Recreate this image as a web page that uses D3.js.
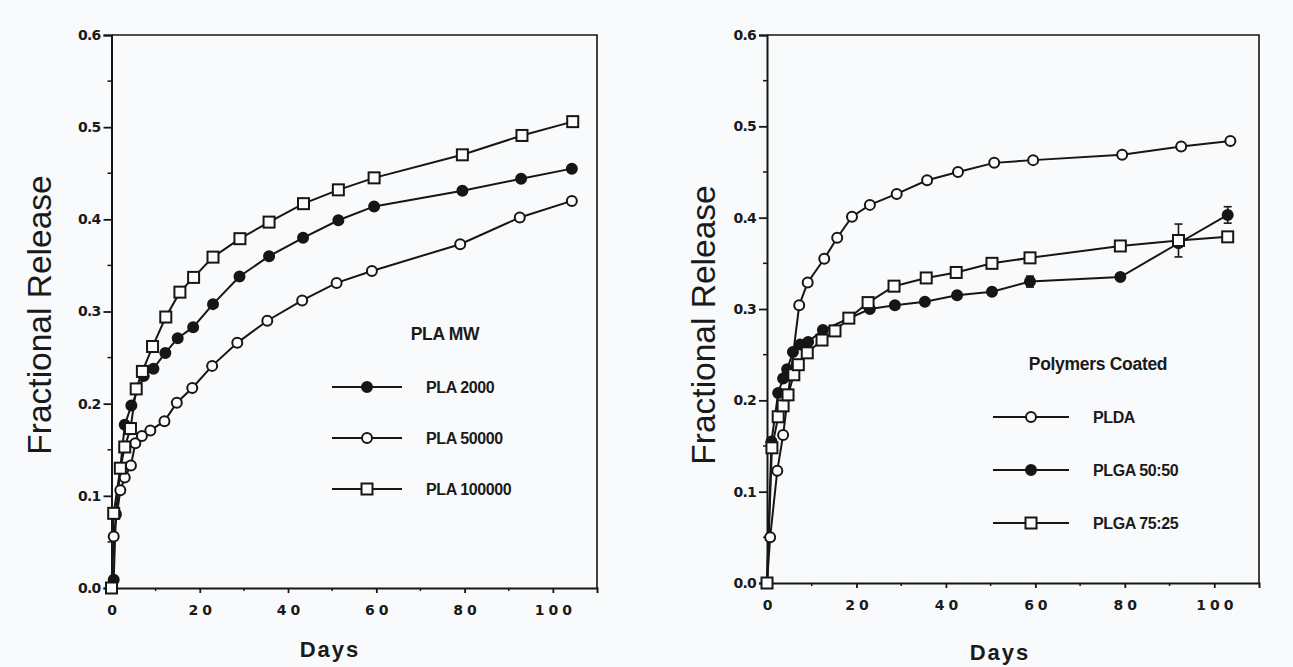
<!DOCTYPE html>
<html><head><meta charset="utf-8">
<script src="https://cdn.jsdelivr.net/npm/d3@7/dist/d3.min.js"></script>
<style>
html,body{margin:0;padding:0;background:#f9fafb;}
svg{display:block;}
text{font-family:"Liberation Sans",Arial,sans-serif;fill:#1a1a1a;}
</style></head>
<body>
<svg id="chart" width="1293" height="667"></svg>
<script>
// ---------- DATA ----------
const xTicks = [0, 20, 40, 60, 80, 100];
const yTicks = [0.0, 0.1, 0.2, 0.3, 0.4, 0.5, 0.6];
const xLabel = "Days";
const yLabel = "Fractional Release";

// Left panel: PLA molecular weight
const leftLegendTitle = "PLA MW";
const pla2000Days = [0, 0.5, 1, 2, 3, 4.5, 7.3, 9.5, 12.2, 15, 18.5, 23, 29, 35.7, 43.4, 51.4, 59.5, 79.5, 92.8, 104.3];
const pla2000Vals = [0, 0.009, 0.08, 0.13, 0.177, 0.198, 0.23, 0.238, 0.255, 0.271, 0.283, 0.308, 0.338, 0.36, 0.38, 0.399, 0.414, 0.431, 0.444, 0.455];
const pla50000Days = [0, 0.5, 2, 3, 4.4, 5.4, 6.9, 8.8, 12, 14.8, 18.3, 22.8, 28.5, 35.3, 43.2, 51, 59, 79, 92.5, 104.3];
const pla50000Vals = [0, 0.056, 0.106, 0.12, 0.133, 0.157, 0.165, 0.171, 0.181, 0.201, 0.217, 0.241, 0.266, 0.29, 0.312, 0.331, 0.344, 0.373, 0.402, 0.42];
const pla100000Days = [0, 0.5, 2, 3, 4.3, 5.6, 7, 9.3, 12.3, 15.5, 18.6, 23, 29.1, 35.7, 43.5, 51.4, 59.5, 79.5, 93, 104.5];
const pla100000Vals = [0, 0.081, 0.13, 0.153, 0.173, 0.216, 0.235, 0.262, 0.294, 0.321, 0.337, 0.359, 0.379, 0.397, 0.417, 0.432, 0.445, 0.47, 0.491, 0.506];

// Right panel: polymers coated
const rightLegendTitle = "Polymers Coated";
const pldaDays = [0, 0.7, 2.3, 3.6, 7.2, 9.1, 12.8, 15.7, 19, 23, 29, 35.8, 42.7, 50.8, 59.5, 79.4, 92.6, 103.6];
const pldaVals = [0, 0.05, 0.123, 0.162, 0.304, 0.329, 0.355, 0.378, 0.401, 0.414, 0.426, 0.441, 0.45, 0.46, 0.463, 0.469, 0.478, 0.484];
const plga5050Days = [0, 1, 2.5, 3.6, 4.5, 5.8, 7.4, 9.2, 12.5, 23, 28.6, 35.3, 42.5, 50.3, 58.8, 79, 92, 103];
const plga5050Vals = [0, 0.155, 0.208, 0.224, 0.234, 0.253, 0.261, 0.264, 0.277, 0.3, 0.304, 0.308, 0.315, 0.319, 0.33, 0.335, 0.372, 0.403];
const plga5050Err  = [0, 0, 0, 0, 0, 0, 0, 0, 0, 0, 0, 0, 0, 0, 0.006, 0, 0, 0.009];
const plga7525Days = [0, 1.1, 2.5, 3.6, 4.7, 6, 7, 9, 12.3, 15.2, 18.3, 22.6, 28.4, 35.6, 42.3, 50.3, 58.8, 79, 92, 103];
const plga7525Vals = [0, 0.148, 0.182, 0.194, 0.206, 0.228, 0.239, 0.252, 0.266, 0.276, 0.29, 0.307, 0.325, 0.334, 0.34, 0.35, 0.356, 0.369, 0.375, 0.379];
const plga7525Err  = [0, 0, 0, 0, 0, 0, 0, 0, 0, 0, 0, 0, 0, 0, 0, 0, 0, 0, 0.018, 0];

const leftSeries = [
  {name: "PLA 2000", days: pla2000Days, vals: pla2000Vals, marker: "filled"},
  {name: "PLA 50000", days: pla50000Days, vals: pla50000Vals, marker: "open"},
  {name: "PLA 100000", days: pla100000Days, vals: pla100000Vals, marker: "square"}
];
const rightSeries = [
  {name: "PLDA", days: pldaDays, vals: pldaVals, marker: "open"},
  {name: "PLGA 50:50", days: plga5050Days, vals: plga5050Vals, err: plga5050Err, marker: "filled"},
  {name: "PLGA 75:25", days: plga7525Days, vals: plga7525Vals, err: plga7525Err, marker: "square"}
];

// ---------- DRAW ----------
const svg = d3.select("#chart");
const INK = "#161616";

function drawMarker(g, type, cx, cy) {
  if (type === "square") {
    g.append("rect").attr("x", cx - 5.5).attr("y", cy - 5.5).attr("width", 11).attr("height", 11)
      .attr("fill", "#fbfcfd").attr("stroke", INK).attr("stroke-width", 2);
  } else {
    g.append("circle").attr("cx", cx).attr("cy", cy).attr("r", 5)
      .attr("fill", type === "filled" ? INK : "#fbfcfd").attr("stroke", INK).attr("stroke-width", 2);
  }
}

function panel(cfg) {
  const x = d3.scaleLinear().domain([0, 110]).range([cfg.left, cfg.right]);
  const y = d3.scaleLinear().domain([0, 0.6]).range([cfg.bottom, cfg.top]);
  const g = svg.append("g");

  // frame top/right
  g.append("path")
    .attr("d", `M${cfg.left},${cfg.top}H${cfg.right}V${cfg.bottom}`)
    .attr("fill", "none").attr("stroke", INK).attr("stroke-width", 1.6);

  // y axis
  const yAx = g.append("g").attr("transform", `translate(${cfg.left},0)`)
    .call(d3.axisLeft(y).tickValues(yTicks).tickFormat(d3.format(".1f")).tickSize(8).tickPadding(3));
  yAx.select(".domain").attr("stroke", INK).attr("stroke-width", 2);
  yAx.selectAll(".tick line").attr("stroke", INK).attr("stroke-width", 1.8);
  yAx.selectAll(".tick text").attr("font-size", 14).attr("font-weight", "bold").attr("fill", INK)
    .style("font-family", "'DejaVu Sans', sans-serif").attr("letter-spacing", "-0.8px");
  const yMinor = d3.range(0.05, 0.6, 0.1);
  g.append("g").selectAll("line").data(yMinor).join("line")
    .attr("x1", cfg.left - 4).attr("x2", cfg.left).attr("y1", d => y(d)).attr("y2", d => y(d))
    .attr("stroke", INK).attr("stroke-width", 1.5);

  // x axis
  const xAx = g.append("g").attr("transform", `translate(0,${cfg.bottom})`)
    .call(d3.axisBottom(x).tickValues(xTicks).tickFormat(d => String(d)).tickSize(5).tickPadding(12));
  xAx.select(".domain").attr("stroke", INK).attr("stroke-width", 2);
  xAx.selectAll(".tick line").attr("stroke", INK).attr("stroke-width", 1.8);
  xAx.selectAll(".tick text").attr("font-size", 14).attr("font-weight", "bold").attr("fill", INK)
    .attr("letter-spacing", "4px").attr("dx", "2px")
    .style("font-family", "'DejaVu Sans', sans-serif");
  const xMinor = [10, 30, 50, 70, 90];
  g.append("g").selectAll("line").data(xMinor).join("line")
    .attr("x1", d => x(d)).attr("x2", d => x(d)).attr("y1", cfg.bottom).attr("y2", cfg.bottom + 3)
    .attr("stroke", INK).attr("stroke-width", 1.5);

  // axis titles
  g.append("text").attr("x", cfg.xLabelX).attr("y", cfg.xLabelY).attr("text-anchor", "middle")
    .attr("font-size", 22).attr("font-weight", "bold").attr("letter-spacing", "2px").text(xLabel);
  g.append("text").attr("transform", `translate(${cfg.yLabelX},${cfg.yLabelY}) rotate(-90)`)
    .attr("text-anchor", "middle").attr("font-size", 33.5).attr("fill", "#2a2a2a").text(yLabel);

  // series
  const line = d3.line().x(d => x(d[0])).y(d => y(d[1]));
  cfg.series.forEach(s => {
    const pts = s.days.map((d, i) => [d, s.vals[i]]);
    g.append("path").datum(pts).attr("d", line).attr("fill", "none")
      .attr("stroke", INK).attr("stroke-width", 2);
  });
  cfg.series.forEach(s => {
    const mg = g.append("g");
    s.days.forEach((d, i) => {
      const e = s.err ? s.err[i] : 0;
      if (e > 0) {
        const cx = x(d);
        mg.append("line").attr("x1", cx).attr("x2", cx).attr("y1", y(s.vals[i] - e)).attr("y2", y(s.vals[i] + e))
          .attr("stroke", INK).attr("stroke-width", 1.6);
        [s.vals[i] - e, s.vals[i] + e].forEach(v => mg.append("line")
          .attr("x1", cx - 4).attr("x2", cx + 4).attr("y1", y(v)).attr("y2", y(v))
          .attr("stroke", INK).attr("stroke-width", 1.6));
      }
      drawMarker(mg, s.marker, x(d), y(s.vals[i]));
    });
  });

  // legend
  const L = cfg.legend;
  g.append("text").attr("x", L.titleX).attr("y", L.titleY).attr("text-anchor", "middle")
    .attr("font-size", 17.5).attr("font-weight", "bold").attr("letter-spacing", "-0.3px").text(L.title);
  cfg.series.forEach((s, i) => {
    const ly = L.y0 + i * L.dy;
    g.append("line").attr("x1", L.x1).attr("x2", L.x2).attr("y1", ly).attr("y2", ly)
      .attr("stroke", INK).attr("stroke-width", 2);
    drawMarker(g, s.marker, (L.x1 + L.x2) / 2, ly);
    g.append("text").attr("x", L.textX).attr("y", ly + 6).attr("font-size", 16)
      .attr("font-weight", "bold").attr("letter-spacing", "-0.4px").text(s.name);
  });
}

panel({
  left: 111.5, right: 597, top: 35, bottom: 588,
  xLabelX: 330, xLabelY: 657, yLabelX: 51, yLabelY: 315,
  series: leftSeries,
  legend: {title: leftLegendTitle, titleX: 445, titleY: 340, x1: 332, x2: 402, y0: 387, dy: 51, textX: 426}
});
panel({
  left: 767, right: 1259, top: 35, bottom: 583,
  xLabelX: 1000, xLabelY: 660, yLabelX: 715, yLabelY: 325,
  series: rightSeries,
  legend: {title: rightLegendTitle, titleX: 1098, titleY: 370, x1: 993, x2: 1069, y0: 417, dy: 53, textX: 1093}
});
</script>
</body></html>
